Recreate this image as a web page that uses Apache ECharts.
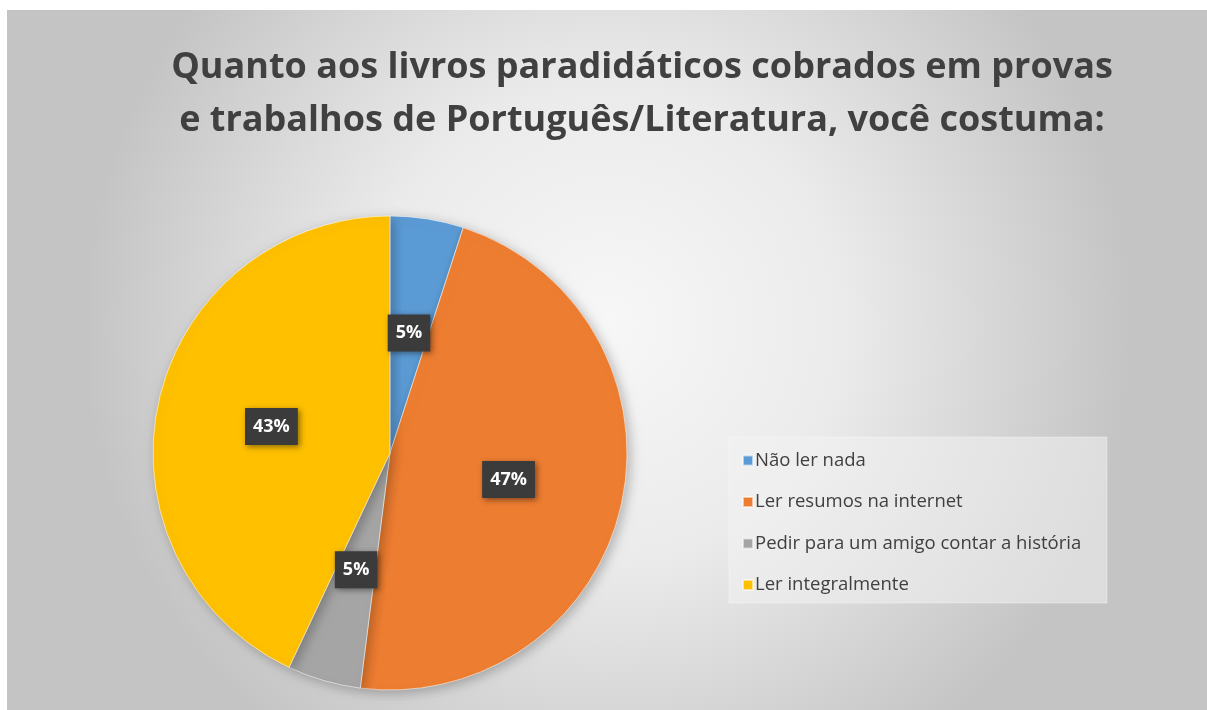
<!DOCTYPE html>
<html>
<head>
<meta charset="utf-8">
<script src="https://cdn.jsdelivr.net/npm/echarts@6/dist/echarts.min.js"></script>
<style>
  html, body { margin: 0; padding: 0; background: #ffffff; }
  #chart { width: 1207px; height: 710px; }
</style>
</head>
<body>
<div id="chart"></div>
<script>
// Survey answers and their shares (percent)
const categories = [
  'Não ler nada',
  'Ler resumos na internet',
  'Pedir para um amigo contar a história',
  'Ler integralmente'
];
const shares = [5, 47, 5, 43];
const sliceColors = ['#5b9bd5', '#ed7d31', '#a5a5a5', '#ffc000'];
const titleLines = [
  'Quanto aos livros paradidáticos cobrados em provas',
  'e trabalhos de Português/Literatura, você costuma:'
];

const chart = echarts.init(document.getElementById('chart'), null, { renderer: 'canvas' });

const option = {
  animation: false,
  color: sliceColors,
  graphic: [
    {
      type: 'rect',
      z: -10,
      shape: { x: 7, y: 10, width: 1200, height: 700 },
      style: {
        fill: new echarts.graphic.RadialGradient(0.5, 0.45, 0.75, [
          { offset: 0, color: '#f7f7f7' },
          { offset: 0.45, color: '#ebebeb' },
          { offset: 1, color: '#c4c4c4' }
        ])
      },
      silent: true
    },
    {
      type: 'rect',
      z: -5,
      shape: { x: 729, y: 437, width: 378, height: 166 },
      style: {
        fill: 'rgba(242,242,242,0.55)',
        stroke: 'rgba(255,255,255,0.35)',
        lineWidth: 1
      },
      silent: true
    }
  ],
  title: {
    text: titleLines.join('\n'),
    left: 637,
    top: 36,
    textAlign: 'center',
    textStyle: {
      fontFamily: 'Open Sans',
      fontWeight: 'bold',
      fontSize: 36,
      lineHeight: 53,
      color: '#404040'
    }
  },
  legend: {
    orient: 'vertical',
    left: 737,
    top: 445,
    itemWidth: 10,
    itemHeight: 10,
    itemGap: 20.5,
    icon: 'rect',
    data: categories,
    textStyle: {
      fontFamily: 'Open Sans',
      fontSize: 18.5,
      lineHeight: 21,
      color: '#404040',
      padding: [0, 0, 0, -3]
    }
  },
  series: [
    {
      type: 'pie',
      center: [390, 453],
      radius: 237,
      startAngle: 90,
      clockwise: true,
      avoidLabelOverlap: false,
      data: categories.map((name, i) => ({ name: name, value: shares[i] })),
      itemStyle: {
        borderColor: 'rgba(255,255,255,0.55)',
        borderWidth: 1,
        shadowBlur: 12,
        shadowColor: 'rgba(0,0,0,0.25)',
        shadowOffsetX: 3,
        shadowOffsetY: 3
      },
      label: {
        show: true,
        position: 'inside',
        formatter: '{c}%',
        fontFamily: 'Open Sans',
        fontWeight: 'bold',
        fontSize: 18,
        color: '#ffffff',
        backgroundColor: '#3b3b3b',
        padding: [10, 8, 9, 8],
        shadowBlur: 6,
        shadowColor: 'rgba(0,0,0,0.45)',
        shadowOffsetX: 2,
        shadowOffsetY: 2
      },
      labelLine: { show: false },
      emphasis: { disabled: true }
    }
  ]
};

chart.setOption(option);
</script>
</body>
</html>
